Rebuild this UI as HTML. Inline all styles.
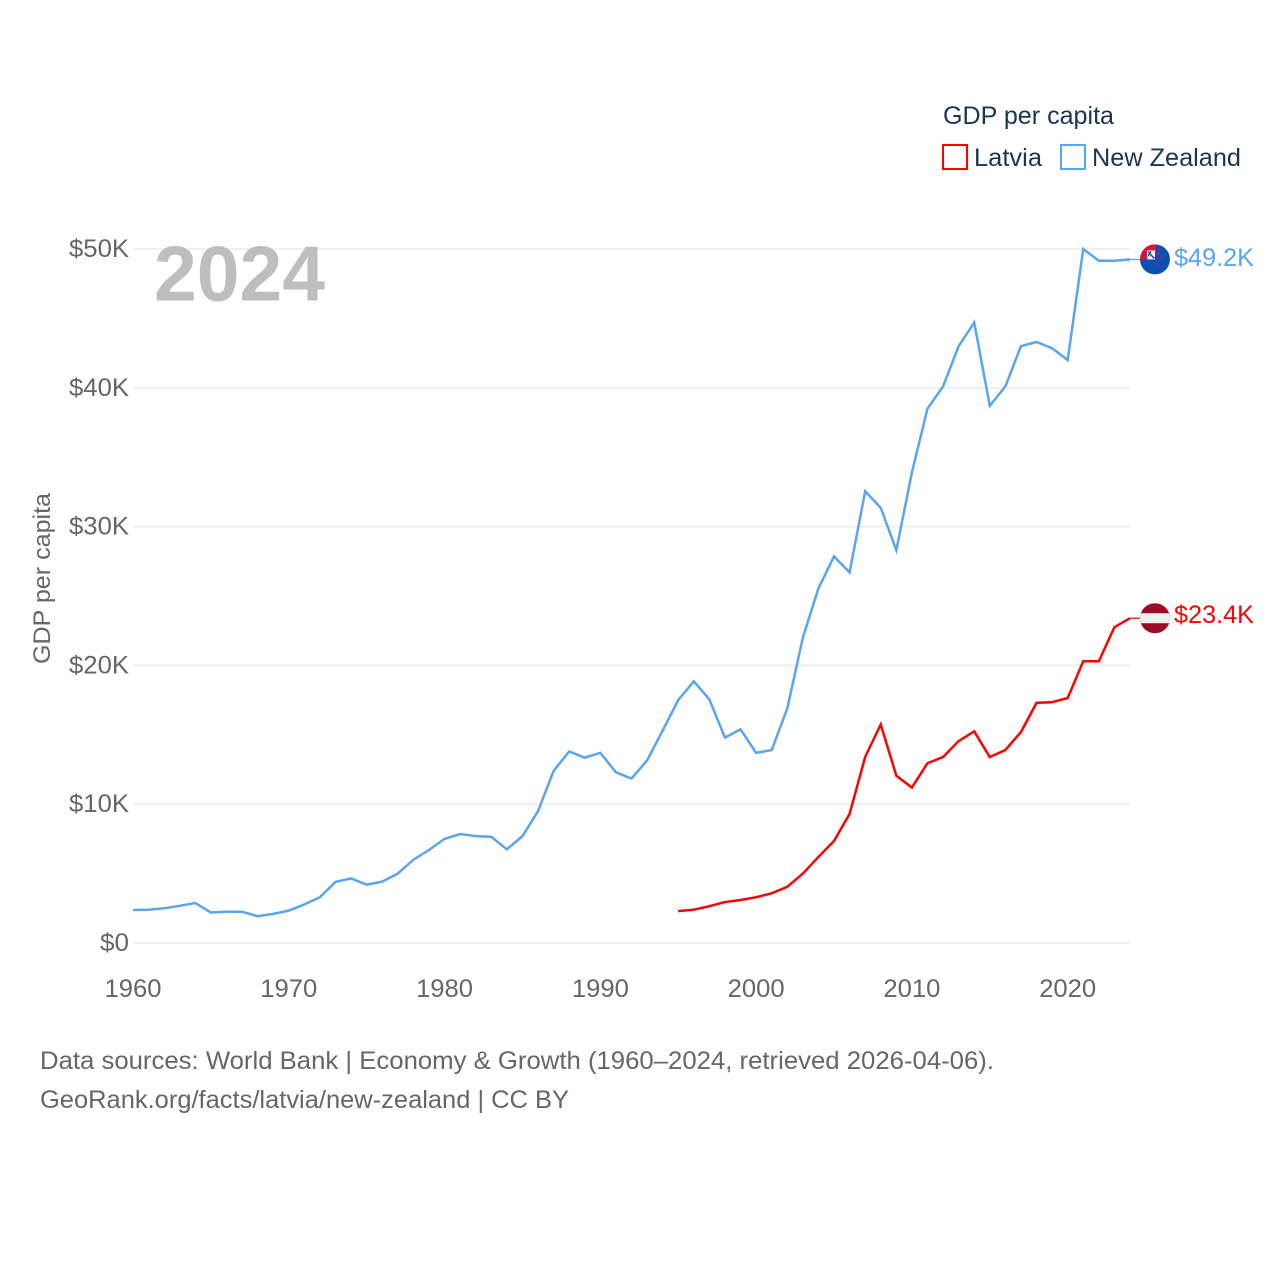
<!DOCTYPE html>
<html lang="en">
<head>
<meta charset="utf-8">
<title>GDP per capita: Latvia and New Zealand</title>
<style>
html,body{margin:0;padding:0;background:#fff;}
svg{display:block;font-family:"Liberation Sans",sans-serif;}
</style>
</head>
<body>
<svg id="chart" xmlns="http://www.w3.org/2000/svg" width="1280" height="1280" viewBox="0 0 1280 1280">
  <defs>
    <clipPath id="flag-clip-nz"><circle cx="0" cy="0" r="15"></circle></clipPath>
    <clipPath id="flag-clip-lv"><circle cx="0" cy="0" r="15"></circle></clipPath>
  </defs>
  <rect x="0" y="0" width="1280" height="1280" fill="#ffffff"></rect>
  <g id="grid"></g>
  <g id="y-ticks"></g>
  <g id="x-ticks"></g>
  <text transform="translate(50,664) rotate(-90)" font-size="24" fill="#666666" textLength="171" lengthAdjust="spacingAndGlyphs">GDP per capita</text>
  <text x="154" y="300.5" font-size="78" font-weight="700" fill="#bbbbbb" fill-opacity="0.95" textLength="171" lengthAdjust="spacingAndGlyphs">2024</text>
  <g id="series"></g>
  <g id="end-markers"></g>

  <g>
    <text x="943" y="124" font-size="25" fill="#1a3553" textLength="171" lengthAdjust="spacingAndGlyphs">GDP per capita</text>
    <rect x="943" y="145" width="24" height="24" fill="#ffffff" stroke="#ff0000" stroke-width="2"></rect>
    <text x="974" y="166" font-size="25" fill="#1a3553" textLength="68" lengthAdjust="spacingAndGlyphs">Latvia</text>
    <rect x="1061" y="145" width="24" height="24" fill="#ffffff" stroke="#5ba4ee" stroke-width="2"></rect>
    <text x="1092" y="166" font-size="25" fill="#1a3553" textLength="149" lengthAdjust="spacingAndGlyphs">New Zealand</text>
  </g>

  <g>
    <text x="40" y="1069" font-size="25" fill="#666666" textLength="954" lengthAdjust="spacingAndGlyphs">Data sources: World Bank | Economy &amp; Growth (1960–2024, retrieved 2026-04-06).</text>
    <text x="40" y="1108" font-size="25" fill="#666666" textLength="529" lengthAdjust="spacingAndGlyphs">GeoRank.org/facts/latvia/new-zealand | CC BY</text>
  </g>
</svg>
<script>
// Data, in thousands of US dollars
const nzYears = [1960,1961,1962,1963,1964,1965,1966,1967,1968,1969,1970,1971,1972,1973,1974,1975,1976,1977,1978,1979,1980,1981,1982,1983,1984,1985,1986,1987,1988,1989,1990,1991,1992,1993,1994,1995,1996,1997,1998,1999,2000,2001,2002,2003,2004,2005,2006,2007,2008,2009,2010,2011,2012,2013,2014,2015,2016,2017,2018,2019,2020,2021,2022,2023,2024];
const nzValues = [2.38,2.4,2.5,2.68,2.88,2.2,2.25,2.25,1.93,2.1,2.33,2.78,3.3,4.4,4.65,4.2,4.42,5.0,6.0,6.7,7.5,7.85,7.7,7.65,6.75,7.7,9.5,12.4,13.8,13.35,13.7,12.3,11.85,13.15,15.3,17.5,18.85,17.55,14.8,15.4,13.7,13.9,16.9,22.0,25.55,27.85,26.7,32.55,31.35,28.3,33.9,38.5,40.1,43.0,44.7,38.7,40.1,43.0,43.3,42.85,42.0,50.0,49.15,49.15,49.25];
const lvYears = [1995,1996,1997,1998,1999,2000,2001,2002,2003,2004,2005,2006,2007,2008,2009,2010,2011,2012,2013,2014,2015,2016,2017,2018,2019,2020,2021,2022,2023,2024];
const lvValues = [2.3,2.4,2.65,2.95,3.1,3.3,3.58,4.05,5.0,6.2,7.35,9.3,13.4,15.75,12.05,11.2,12.95,13.4,14.55,15.25,13.4,13.9,15.2,17.3,17.35,17.65,20.3,20.3,22.75,23.4];
const yTickValues = [0,10,20,30,40,50];
const yTickLabels = ["$0","$10K","$20K","$30K","$40K","$50K"];
const yTickWidths = [29,60,60,60,60,60];
const xTickValues = [1960,1970,1980,1990,2000,2010,2020];
const nzEndLabel = "$49.2K";
const lvEndLabel = "$23.4K";

const NS = "http://www.w3.org/2000/svg";
const xScale = function (year) { return 133 + (year - 1960) * (1130 - 133) / 64; };
const yScale = function (value) { return 943 - value * (943 - 249) / 50; };

function make(tag, parent, attrs) {
  const el = document.createElementNS(NS, tag);
  for (const key in attrs) { el.setAttribute(key, attrs[key]); }
  parent.appendChild(el);
  return el;
}

const grid = document.getElementById("grid");
const yTicks = document.getElementById("y-ticks");
const xTicks = document.getElementById("x-ticks");
const seriesGroup = document.getElementById("series");
const markers = document.getElementById("end-markers");

yTickValues.forEach(function (v, i) {
  const line = make("line", grid, {x1: 133, x2: 1130, y1: yScale(v), y2: yScale(v), stroke: "#ececec", "stroke-width": 1.6});
  
  
  const label = make("text", yTicks, {x: 129 - yTickWidths[i], y: yScale(v) + 8, "font-size": 25, fill: "#666666", textLength: yTickWidths[i], lengthAdjust: "spacingAndGlyphs"});
  
  
  label.textContent = yTickLabels[i];
});

xTickValues.forEach(function (year) {
  const label = make("text", xTicks, {x: xScale(year) - 28.5, y: 997, "font-size": 25, fill: "#666666", textLength: 57, lengthAdjust: "spacingAndGlyphs"});
  
  
  label.textContent = String(year);
});

function drawSeries(years, values, color) {
  const d = years.map(function (year, i) {
    return (i ? "L" : "M") + xScale(year).toFixed(2) + " " + yScale(values[i]).toFixed(2);
  }).join(" ");
  return make("path", seriesGroup, {d: d, fill: "none", stroke: color, "stroke-width": 2.5, "stroke-linejoin": "miter"});
}

const nzLine = drawSeries(nzYears, nzValues, "#5ba4ee");


const lvLine = drawSeries(lvYears, lvValues, "#ff0000");



function drawConnector(value, color) {
  const y = yScale(value);
  return make("line", markers, {x1: 1130, x2: 1142, y1: y, y2: y, stroke: color, "stroke-width": 1.2});
}

const nzLast = nzValues[nzValues.length - 1];
const lvLast = lvValues[lvValues.length - 1];

const nzConnector = drawConnector(nzLast, "#5ba4ee");


const lvConnector = drawConnector(lvLast, "#ff0000");



// New Zealand flag
const nzFlag = make("g", markers, {transform: "translate(1155," + yScale(nzLast).toFixed(2) + ")", "clip-path": "url(#flag-clip-nz)"});


make("rect", nzFlag, {x: -15, y: -15, width: 30, height: 30, fill: "#0b50b4"});
make("rect", nzFlag, {x: -15, y: -15, width: 16, height: 15, fill: "#d8143a"});
make("rect", nzFlag, {x: -8, y: -9, width: 8, height: 9, fill: "#f4f4f8"});
make("path", nzFlag, {d: "M-7 -8 L-1 -1 M-7 -3 L-4 -8", stroke: "#1c4fa8", "stroke-width": 1.5, fill: "none"});
make("circle", nzFlag, {cx: 4, cy: -6, r: 1.1, fill: "#d8143a"});
make("circle", nzFlag, {cx: 0, cy: -2, r: 0.9, fill: "#d8143a"});
make("circle", nzFlag, {cx: 7, cy: -2, r: 1.1, fill: "#d8143a"});
make("circle", nzFlag, {cx: 3, cy: 5, r: 1.2, fill: "#d8143a"});

// Latvia flag
const lvFlag = make("g", markers, {transform: "translate(1155," + yScale(lvLast).toFixed(2) + ")", "clip-path": "url(#flag-clip-lv)"});


make("rect", lvFlag, {x: -15, y: -15, width: 30, height: 30, fill: "#9e0a26"});
make("rect", lvFlag, {x: -15, y: -5, width: 30, height: 10, fill: "#f0eeee"});

const nzText = make("text", markers, {x: 1174, y: yScale(nzLast) + 6.5, "font-size": 25, fill: "#5ba4ee", textLength: 80, lengthAdjust: "spacingAndGlyphs"});


nzText.textContent = nzEndLabel;

const lvText = make("text", markers, {x: 1174, y: yScale(lvLast) + 5, "font-size": 25, fill: "#ff0000", textLength: 80, lengthAdjust: "spacingAndGlyphs"});


lvText.textContent = lvEndLabel;
</script>
</body>
</html>
